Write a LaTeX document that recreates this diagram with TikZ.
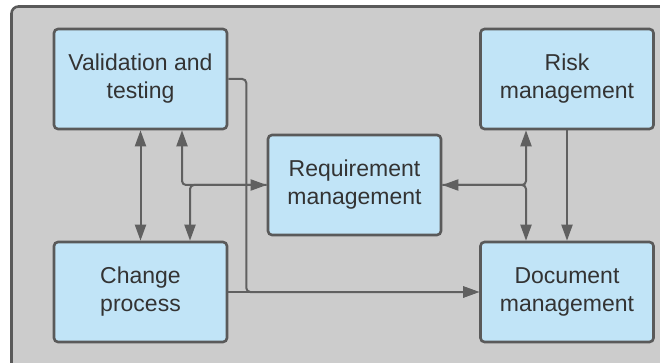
\documentclass[tikz,border=0pt]{standalone}
\usepackage{fontspec}
\setmainfont{Liberation Sans}
\usetikzlibrary{arrows.meta}
\definecolor{bgray}{HTML}{CCCCCC}
\definecolor{bordc}{HTML}{5A5A5A}
\definecolor{boxfill}{HTML}{C1E4F7}
\definecolor{linec}{HTML}{606060}
\definecolor{txtc}{HTML}{333333}
\tikzset{
  box/.style={draw=bordc, line width=2.6pt, fill=boxfill, rounded corners=4pt,
    minimum width=173pt, minimum height=100pt, inner sep=0pt, align=center,
    text=txtc, font=\fontsize{23}{28}\selectfont},
  conn/.style={draw=linec, line width=2pt, rounded corners=4pt,
    arrows={-}, >={Triangle[length=16pt,width=11pt]}},
}
\begin{document}
\begin{tikzpicture}[x=1pt,y=-1pt]
\useasboundingbox (0,0) rectangle (660,363);
\clip (0,0) rectangle (660,363);
\draw[draw=bordc, line width=2.6pt, fill=bgray, rounded corners=7pt] (11.5,6.5) rectangle (690,400);
\node[box] (val) at (140.5,79) {Validation and\\testing};
\node[box] (risk) at (567,79) {Risk\\management};
\node[box] (req) at (354.5,185) {Requirement\\management};
\node[box] (chg) at (140.5,292) {Change\\process};
\node[box] (doc) at (567,292) {Document\\management};
\coordinate (vtr) at ([xshift=18pt]val.east);
% left side
\draw[conn,<->] (val.south) -- (chg.north);
\draw[conn,<->] ([xshift=41.5pt]val.south) |- (req.west);
\draw[conn,->] (req.west) -| ([xshift=49.5pt]chg.north);
% middle long connector
\draw[conn,->] (val.east) -- (vtr) |- (doc.west);
\draw[conn,->] (chg.east) -- (doc.west);
% right side
\draw[conn,<->] ([xshift=-41pt]risk.south) |- (req.east);
\draw[conn,->] (req.east) -| ([xshift=-41pt]doc.north);
\draw[conn,->] (risk.south) -- (doc.north);
\end{tikzpicture}
\end{document}
